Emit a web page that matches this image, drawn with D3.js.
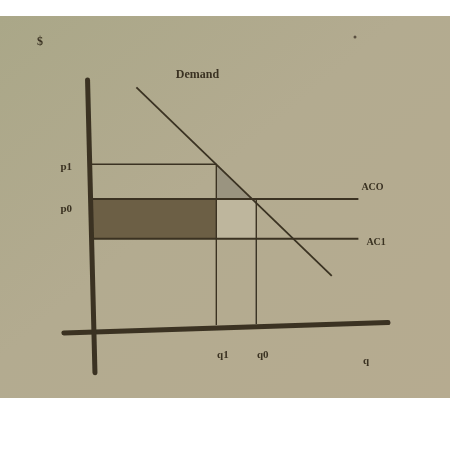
<!DOCTYPE html>
<html><head><meta charset="utf-8">
<script src="https://cdn.jsdelivr.net/npm/d3@7"></script>
<style>html,body{margin:0;padding:0;background:#fff;}svg{display:block;}</style>
</head><body>
<script>
// ---- data (units 0..10) ----
const priceNames = ["p1", "p0"];
const priceValues = [6.6, 5.2];
const costNames = ["ACO", "AC1"];
const costValues = [5.2, 3.6];
const quantityNames = ["q1", "q0"];
const quantityValues = [4.2, 5.55];
const demandQ = [1.5, 8.1];
const demandP = [9.7, 2.1];
const costLineEnd = 9.0;

const W = 450, H = 450;
const svg = d3.select("body").append("svg").attr("width", W).attr("height", H);
const defs = svg.append("defs");
const grad = defs.append("linearGradient").attr("id", "paper").attr("x1", 0).attr("y1", 0).attr("x2", 1).attr("y2", 1);
grad.append("stop").attr("offset", "0%").attr("stop-color", "#aaa788");
grad.append("stop").attr("offset", "45%").attr("stop-color", "#b3ab90");
grad.append("stop").attr("offset", "100%").attr("stop-color", "#b6ab90");
defs.append("filter").attr("id", "soft").append("feGaussianBlur").attr("stdDeviation", 0.55);

svg.append("rect").attr("x", 0).attr("y", 16).attr("width", W).attr("height", 382).attr("fill", "url(#paper)");

const x = d3.scaleLinear().domain([0, 10]).range([92, 388]);
const y = d3.scaleLinear().domain([0, 10]).range([328, 80]);

const g = svg.append("g").attr("filter", "url(#soft)");
const ink = "#3a3222";

// shaded areas
const dq = d3.scaleLinear().domain(demandP).range(demandQ); // quantity on demand curve at price
g.append("rect")
  .attr("x", x(0)).attr("y", y(costValues[0]))
  .attr("width", x(quantityValues[0]) - x(0))
  .attr("height", y(costValues[1]) - y(costValues[0]))
  .attr("fill", "#6c5f45");
g.append("rect")
  .attr("x", x(quantityValues[0])).attr("y", y(costValues[0]))
  .attr("width", x(quantityValues[1]) - x(quantityValues[0]))
  .attr("height", y(costValues[1]) - y(costValues[0]))
  .attr("fill", "#beb69d");
g.append("path")
  .attr("d", d3.line()([
    [x(quantityValues[0]), y(priceValues[0])],
    [x(dq(costValues[0])), y(costValues[0])],
    [x(quantityValues[0]), y(costValues[0])]
  ]) + "Z")
  .attr("fill", "#9a9480");

// guide lines
g.append("line").attr("x1", x(0)).attr("x2", x(quantityValues[0]))
  .attr("y1", y(priceValues[0])).attr("y2", y(priceValues[0]))
  .attr("stroke", ink).attr("stroke-width", 1.4);
costValues.forEach(c => {
  g.append("line").attr("x1", x(0)).attr("x2", x(costLineEnd))
    .attr("y1", y(c)).attr("y2", y(c))
    .attr("stroke", ink).attr("stroke-width", 2);
});
g.append("line").attr("x1", x(quantityValues[0])).attr("x2", x(quantityValues[0]))
  .attr("y1", y(priceValues[0])).attr("y2", y(0) - 3)
  .attr("stroke", ink).attr("stroke-width", 1.4);
g.append("line").attr("x1", x(quantityValues[1])).attr("x2", x(quantityValues[1]))
  .attr("y1", y(priceValues[1])).attr("y2", y(0) - 4)
  .attr("stroke", ink).attr("stroke-width", 1.4);

// demand
g.append("line").attr("x1", x(demandQ[0])).attr("y1", y(demandP[0]))
  .attr("x2", x(demandQ[1])).attr("y2", y(demandP[1]))
  .attr("stroke", ink).attr("stroke-width", 1.8);

// axes (hand drawn, slightly tilted)
g.append("line").attr("x1", x(-0.95)).attr("y1", y(-0.2)).attr("x2", x(10)).attr("y2", y(0.22))
  .attr("stroke", ink).attr("stroke-width", 5).attr("stroke-linecap", "round");
g.append("line").attr("x1", x(-0.15)).attr("y1", y(10)).attr("x2", x(0.1)).attr("y2", y(-1.8))
  .attr("stroke", ink).attr("stroke-width", 5).attr("stroke-linecap", "round");

// axis labels via d3 axes
const yAx = g.append("g").attr("transform", `translate(${x(0) - 20},0)`)
  .call(d3.axisLeft(y).tickValues(priceValues).tickFormat((d, i) => priceNames[i]).tickSize(0).tickPadding(0));
yAx.select(".domain").remove();
yAx.selectAll("text").attr("font-family", "Liberation Serif, serif").attr("font-weight", "bold")
  .attr("font-size", 11).attr("fill", ink).attr("dy", (d, i) => i === 0 ? "0.5em" : "1.1em");

const xAx = g.append("g").attr("transform", `translate(6,${y(0) + 22})`)
  .call(d3.axisBottom(x).tickValues(quantityValues).tickFormat((d, i) => quantityNames[i]).tickSize(0).tickPadding(0));
xAx.select(".domain").remove();
xAx.selectAll("text").attr("font-family", "Liberation Serif, serif").attr("font-weight", "bold")
  .attr("font-size", 11).attr("fill", ink);

const txt = (t, px, py, anchor = "start", size = 11) => g.append("text").text(t)
  .attr("x", px).attr("y", py).attr("text-anchor", anchor)
  .attr("font-family", "Liberation Serif, serif").attr("font-weight", "bold")
  .attr("font-size", size).attr("fill", ink);

txt("Demand", x(demandQ[0]) + 61, y(demandP[0]) - 9, "middle", 12);
txt(costNames[0], x(costLineEnd) + 3, y(costValues[0]) - 9, "start", 10);
txt(costNames[1], x(costLineEnd) + 8, y(costValues[1]) + 6, "start", 10);
txt("q", 366, 364, "middle", 11);
txt("$", 40, 45, "middle", 12);
g.append("circle").attr("cx", 355).attr("cy", 37).attr("r", 1.5).attr("fill", "#5a5040");
</script>
</body></html>
